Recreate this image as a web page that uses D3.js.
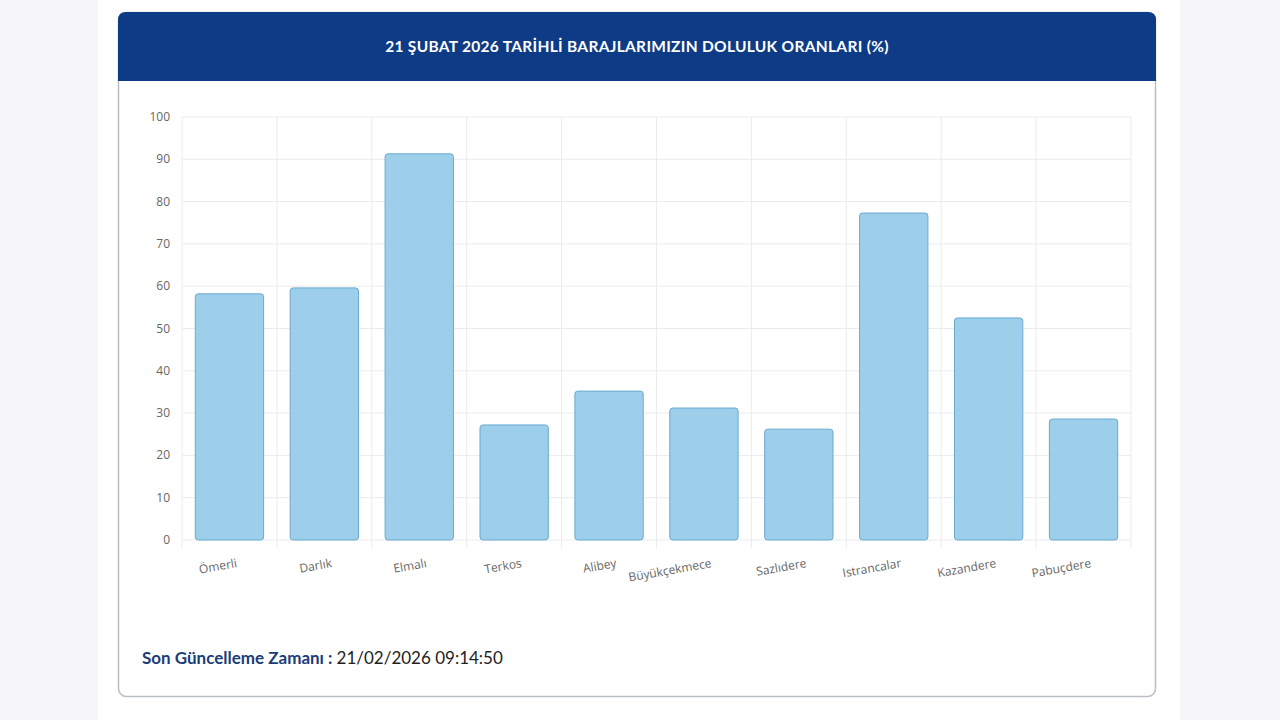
<!DOCTYPE html>
<html><head><meta charset="utf-8">
<script src="https://cdn.jsdelivr.net/npm/d3@7"></script>
<style>
body{margin:0;background:#f6f5f7;font-family:"Open Sans",sans-serif;}
</style></head><body>
<svg id="c" width="1280" height="720"></svg>
<script>
const categories = ["Ömerli", "Darlık", "Elmalı", "Terkos", "Alibey", "Büyükçekmece", "Sazlıdere", "Istrancalar", "Kazandere", "Pabuçdere"];
const values = [58.2, 59.6, 91.3, 27.2, 35.2, 31.2, 26.2, 77.3, 52.5, 28.6];
const yTicks = [0, 10, 20, 30, 40, 50, 60, 70, 80, 90, 100];

const svg = d3.select('#c');
svg.append('rect').attr('x', 98).attr('y', 0).attr('width', 1082).attr('height', 720).attr('fill', '#fff');
// card
svg.append('rect').attr('x', 118.5).attr('y', 12.5).attr('width', 1037).attr('height', 684)
    .attr('rx', 8).attr('fill', '#fff').attr('stroke', '#b9bec6').attr('stroke-width', 1.5);
svg.append('path').attr('fill', '#0e3b86')
    .attr('d', 'M118,81 V20 Q118,12 126,12 H1148 Q1156,12 1156,20 V81 Z');
svg.append('text').attr('x', 637).attr('y', 52).attr('text-anchor', 'middle')
    .attr('fill', '#fff').attr('font-size', 15.5).attr('font-weight', 700)
    .attr('font-family', 'Lato, sans-serif').attr('letter-spacing', 0.3)
    .text('21 ŞUBAT 2026 TARİHLİ BARAJLARIMIZIN DOLULUK ORANLARI (%)');

const x = d3.scaleBand().domain(categories).range([182, 1131]).paddingInner(0.28).paddingOuter(0.14);
const y = d3.scaleLinear().domain([0, 100]).range([540, 117]);
const step = x.step();

const g = svg.append('g');
// grid
g.selectAll('.hg').data(yTicks).enter().append('line')
    .attr('x1', 182).attr('x2', 1131).attr('y1', d => y(d)).attr('y2', d => y(d))
    .attr('stroke', '#ebebef');
g.selectAll('.vg').data(d3.range(categories.length + 1)).enter().append('line')
    .attr('x1', i => 182 + i * step).attr('x2', i => 182 + i * step)
    .attr('y1', 117).attr('y2', 548).attr('stroke', '#ebebef');
g.selectAll('.yl').data(yTicks).enter().append('text')
    .attr('x', 170).attr('y', d => y(d) + 4).attr('text-anchor', 'end')
    .attr('font-size', 12).attr('fill', '#666').text(d => d);

g.selectAll('.bar').data(values).enter().append('rect')
    .attr('x', (d, i) => x(categories[i]))
    .attr('y', d => y(d))
    .attr('width', x.bandwidth())
    .attr('height', d => y(0) - y(d))
    .attr('rx', 3)
    .attr('fill', '#9dcfeb').attr('stroke', '#6aa9cf').attr('stroke-width', 1);

g.selectAll('.xl').data(categories).enter().append('text')
    .attr('transform', d => `translate(${x(d) + x.bandwidth() / 2 + 8},${567}) rotate(-10)`)
    .attr('text-anchor', 'end').attr('font-size', 12).attr('fill', '#666').text(d => d);

const foot = svg.append('text').attr('x', 142).attr('y', 664).attr('font-size', 17)
    .attr('font-family', 'Lato, sans-serif').attr('fill', '#1b3d78');
foot.append('tspan').attr('font-weight', 700).text('Son Güncelleme Zamanı : ');
foot.append('tspan').attr('fill', '#222').text('21/02/2026 09:14:50');
</script>
</body></html>
